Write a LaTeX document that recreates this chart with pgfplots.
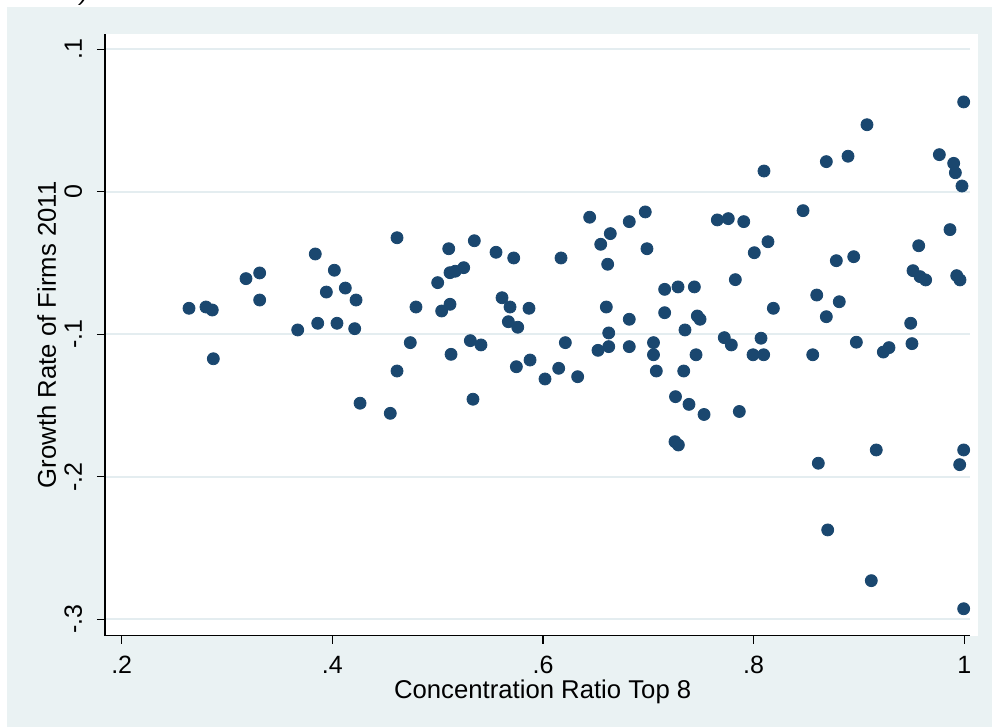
\documentclass[border=0pt]{standalone}
\usepackage{fontspec}
\setmainfont{Liberation Sans}
\usepackage{pgfplots}
\pgfplotsset{compat=1.18}
\usepackage{pgfplotstable}
\definecolor{stnavy}{HTML}{1A476F}
\definecolor{stbg}{HTML}{EAF2F3}
\definecolor{stgrid}{HTML}{E4EDF0}

\pgfplotstableread{
x y
0.2639 -0.0818
0.2800 -0.0809
0.2860 -0.0830
0.2870 -0.1172
0.3180 -0.0610
0.3310 -0.0570
0.3310 -0.0760
0.3671 -0.0970
0.3838 -0.0437
0.3861 -0.0923
0.3943 -0.0704
0.4019 -0.0551
0.4044 -0.0923
0.4123 -0.0676
0.4225 -0.0760
0.4212 -0.0961
0.4263 -0.1484
0.4550 -0.1555
0.4614 -0.0323
0.4794 -0.0809
0.4740 -0.1059
0.4614 -0.1258
0.5105 -0.0400
0.5348 -0.0344
0.5000 -0.0638
0.5117 -0.0568
0.5167 -0.0558
0.5247 -0.0533
0.5038 -0.0837
0.5117 -0.0790
0.5554 -0.0425
0.5722 -0.0465
0.5611 -0.0744
0.5687 -0.0809
0.5867 -0.0818
0.5671 -0.0912
0.5760 -0.0951
0.5310 -0.1045
0.5411 -0.1075
0.5127 -0.1141
0.5335 -0.1456
0.5747 -0.1228
0.5877 -0.1181
0.6019 -0.1314
0.6149 -0.1239
0.6329 -0.1298
0.6212 -0.1059
0.6171 -0.0465
0.6443 -0.0179
0.6548 -0.0369
0.6639 -0.0294
0.6614 -0.0509
0.6819 -0.0210
0.6971 -0.0142
0.6987 -0.0400
0.6601 -0.0809
0.6624 -0.0991
0.6819 -0.0895
0.6522 -0.1113
0.6624 -0.1087
0.6819 -0.1087
0.7049 -0.1059
0.7049 -0.1144
0.7076 -0.1258
0.7258 -0.1438
0.7155 -0.0685
0.7155 -0.0849
0.7282 -0.0668
0.7336 -0.1258
0.7655 -0.0198
0.7759 -0.0189
0.7906 -0.0210
0.8469 -0.0133
0.8136 -0.0351
0.8006 -0.0428
0.8785 -0.0484
0.7826 -0.0617
0.7437 -0.0668
0.7465 -0.0872
0.7491 -0.0895
0.7348 -0.0970
0.8599 -0.0725
0.8813 -0.0772
0.8187 -0.0818
0.8690 -0.0877
0.7721 -0.1024
0.7788 -0.1075
0.8070 -0.1028
0.7453 -0.1144
0.7994 -0.1144
0.8095 -0.1144
0.8561 -0.1144
0.7386 -0.1492
0.7529 -0.1563
0.7864 -0.1542
0.7253 -0.1754
0.7285 -0.1777
0.8098 0.0145
0.9994 0.0630
0.9076 0.0470
0.8690 0.0211
0.8896 0.0249
0.9763 0.0260
0.9899 0.0199
0.9915 0.0133
0.9978 0.0040
0.9864 -0.0266
0.9567 -0.0379
0.8950 -0.0456
0.9513 -0.0554
0.9580 -0.0596
0.9633 -0.0619
0.9928 -0.0589
0.9959 -0.0619
0.9491 -0.0923
0.8975 -0.1056
0.9231 -0.1125
0.9285 -0.1094
0.9503 -0.1066
0.9164 -0.1812
0.8614 -0.1905
0.9994 -0.1812
0.9956 -0.1915
0.8703 -0.2373
0.9117 -0.2729
0.9994 -0.2926
}\datatable

\begin{document}
\begin{tikzpicture}[font=\fontsize{12.85}{15}\selectfont]
\useasboundingbox (0,0) rectangle (496pt,363.5pt);
\fill[white] (0,0) rectangle (496pt,363.5pt);
\fill[stbg] (3.5pt,0) rectangle (496pt,360pt);
\fill[white] (52.5pt,45.65pt) rectangle (489pt,346.5pt);
\begin{scope}
\clip (0,360pt) rectangle (496pt,363.5pt);
\node[anchor=base west, font=\fontsize{12}{14}\selectfont\itshape, inner sep=0pt] at (40pt,363pt) {)};
\end{scope}
\begin{axis}[
  at={(52.5pt,45.65pt)}, anchor=south west,
  scale only axis, width=432.5pt, height=300.85pt,
  xmin=0.18414, xmax=1.00541, ymin=-0.31151, ymax=0.11066,
  axis x line*=bottom, axis y line*=left,
  axis line style={-, black, line width=0.7pt},
  clip=false,
  xtick={0.2,0.4,0.6,0.8,1}, xticklabels={.2,.4,.6,.8,1},
  ytick={-0.3,-0.2,-0.1,0,0.1}, yticklabels={-.3,-.2,-.1,0,.1},
  tick align=outside, major tick length=4pt,
  tick style={black, line width=0.6pt},
  xticklabel style={anchor=base, yshift=-14.9pt, font=\fontsize{12.5}{15}\selectfont},
  yticklabel style={xshift=-7.5pt, rotate=90, anchor=base, font=\fontsize{12.5}{15}\selectfont},
  ymajorgrids, major grid style={stgrid, line width=1.1pt},
  xlabel={Concentration Ratio Top 8},
  ylabel={Growth Rate of Firms 2011},
  xlabel style={at={(axis description cs:0.506,-0.10437)}, anchor=base},
  ylabel style={at={(axis description cs:-0.05665,0.5)}, anchor=base},
]
\addplot[only marks, mark=*, mark size=3pt, mark options={fill=stnavy, draw=stnavy}] table[x=x,y=y] {\datatable};
\end{axis}
\end{tikzpicture}
\end{document}
